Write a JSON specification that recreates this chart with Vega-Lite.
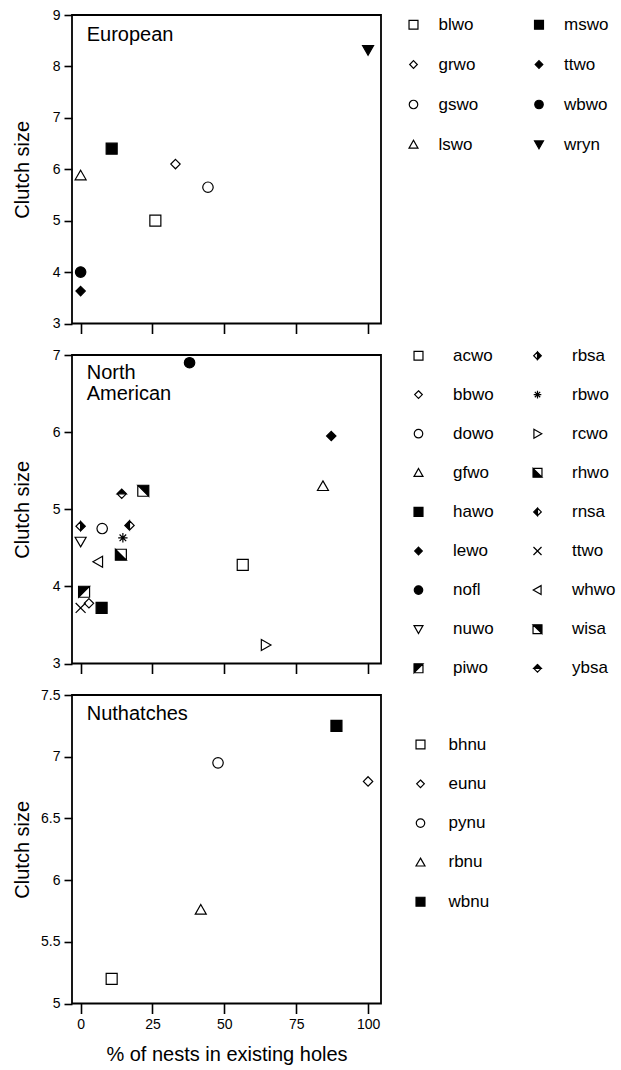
{
  "$schema": "https://vega.github.io/schema/vega-lite/v6.json",
  "padding": {"left": 11, "top": 7, "right": 5, "bottom": 2},
  "config": {
    "font": "Liberation Sans",
    "view": {"stroke": "black", "strokeWidth": 1.8},
    "axis": {"grid": false, "domain": false, "tickColor": "black", "tickWidth": 1.6, "labelColor": "black", "labelFontSize": 14, "titleColor": "black", "titleFontWeight": "normal", "labelFont": "Liberation Sans", "titleFont": "Liberation Sans", "format": "~f"},
    "axisY": {"tickSize": 8, "labelPadding": 4, "titleFontSize": 20, "titleX": -44, "titleBaseline": "alphabetic"},
    "axisX": {"tickSize": 10, "labelPadding": 4, "titleFontSize": 20, "titlePadding": 13},
    "title": {"anchor": "start", "frame": "group", "dx": 14.7, "fontSize": 20, "fontWeight": "normal", "baseline": "alphabetic", "color": "black", "lineHeight": 21, "font": "Liberation Sans"},
    "legend": {"title": null, "orient": "none", "padding": 0, "labelFontSize": 17, "labelFont": "Liberation Sans", "labelColor": "black", "symbolSize": 80, "symbolStrokeColor": "black", "symbolStrokeWidth": 1.2, "symbolOpacity": 1}
  },
  "datasets": {
    "eu": [
      {"species": "blwo", "pct": 26, "clutch": 5.0},
      {"species": "grwo", "pct": 33, "clutch": 6.1},
      {"species": "gswo", "pct": 44.3, "clutch": 5.65},
      {"species": "lswo", "pct": 0, "clutch": 5.88},
      {"species": "mswo", "pct": 10.8, "clutch": 6.4},
      {"species": "ttwo", "pct": 0, "clutch": 3.63},
      {"species": "wbwo", "pct": 0, "clutch": 4.0},
      {"species": "wryn", "pct": 100, "clutch": 8.32}
    ],
    "na": [
      {"species": "acwo", "pct": 56.4, "clutch": 4.28},
      {"species": "bbwo", "pct": 2.9, "clutch": 3.78},
      {"species": "dowo", "pct": 7.5, "clutch": 4.75},
      {"species": "gfwo", "pct": 84.3, "clutch": 5.3},
      {"species": "hawo", "pct": 7.3, "clutch": 3.72},
      {"species": "lewo", "pct": 87.2, "clutch": 5.95},
      {"species": "nofl", "pct": 37.9, "clutch": 6.9},
      {"species": "nuwo", "pct": 0, "clutch": 4.58},
      {"species": "piwo", "pct": 1.2, "clutch": 3.93},
      {"species": "rbsa", "pct": 0, "clutch": 4.78},
      {"species": "rbwo", "pct": 14.7, "clutch": 4.63},
      {"species": "rcwo", "pct": 64.4, "clutch": 3.24},
      {"species": "rhwo", "pct": 14, "clutch": 4.41},
      {"species": "rnsa", "pct": 17, "clutch": 4.79},
      {"species": "ttwo", "pct": 0, "clutch": 3.72},
      {"species": "whwo", "pct": 6.1, "clutch": 4.32},
      {"species": "wisa", "pct": 21.8, "clutch": 5.24},
      {"species": "ybsa", "pct": 14.3, "clutch": 5.2}
    ],
    "nu": [
      {"species": "bhnu", "pct": 10.8, "clutch": 5.2},
      {"species": "eunu", "pct": 100, "clutch": 6.8},
      {"species": "pynu", "pct": 47.8, "clutch": 6.95},
      {"species": "rbnu", "pct": 41.8, "clutch": 5.76},
      {"species": "wbnu", "pct": 89, "clutch": 7.25}
    ]
  },
  "spacing": 31,
  "bounds": "flush",
  "resolve": {"scale": {"shape": "independent", "fill": "independent", "y": "independent"}},
  "vconcat": [
    {
      "width": 309,
      "height": 308.5,
      "title": {"text": "European", "offset": -37},
      "data": {"name": "eu"},
      "mark": {"type": "point", "size": 121, "stroke": "black", "strokeWidth": 1.2, "opacity": 1},
      "encoding": {
        "x": {"field": "pct", "type": "quantitative", "scale": {"domain": [-3, 104.5], "nice": false, "zero": false}, "axis": {"values": [0, 25, 50, 75, 100], "labels": false, "title": null}},
        "y": {"field": "clutch", "type": "quantitative", "scale": {"domain": [3, 9], "nice": false, "zero": false}, "axis": {"values": [3, 4, 5, 6, 7, 8, 9], "title": "Clutch size"}},
        "shape": {"field": "species", "type": "nominal",
          "scale": {"domain": ["blwo", "grwo", "gswo", "lswo", "mswo", "ttwo", "wbwo", "wryn"],
            "range": ["M-1,-1H1V1H-1Z", "M0,-0.85L0.85,0L0,0.85L-0.85,0Z", "M0.95,0A0.95,0.95,0,1,1,-0.95,0A0.95,0.95,0,1,1,0.95,0Z", "M0,-0.95L1,0.8L-1,0.8Z", "M-1,-1H1V1H-1Z", "M0,-0.85L0.85,0L0,0.85L-0.85,0Z", "M0.95,0A0.95,0.95,0,1,1,-0.95,0A0.95,0.95,0,1,1,0.95,0Z", "M0,0.95L1,-0.8L-1,-0.8Z"]},
          "legend": {"columns": 2, "legendX": 333, "legendY": 1, "rowPadding": 22, "columnPadding": 51.5, "labelOffset": 16.5, "encode": {"symbols": {"update": {"stroke": {"value": "black"}, "strokeWidth": {"value": 1.2}}}}}},
        "fill": {"field": "species", "type": "nominal",
          "scale": {"domain": ["blwo", "grwo", "gswo", "lswo", "mswo", "ttwo", "wbwo", "wryn"],
            "range": ["white", "white", "white", "white", "black", "black", "black", "black"]},
          "legend": {"columns": 2, "legendX": 333, "legendY": 1, "rowPadding": 22, "columnPadding": 51.5, "labelOffset": 16.5, "encode": {"symbols": {"update": {"stroke": {"value": "black"}, "strokeWidth": {"value": 1.2}}}}}}
      }
    },
    {
      "width": 309,
      "height": 308.5,
      "title": {"text": ["North", "American"], "offset": -57},
      "data": {"name": "na"},
      "mark": {"type": "point", "size": 121, "stroke": "black", "strokeWidth": 1.2, "opacity": 1},
      "encoding": {
        "x": {"field": "pct", "type": "quantitative", "scale": {"domain": [-3, 104.5], "nice": false, "zero": false}, "axis": {"values": [0, 25, 50, 75, 100], "labels": false, "title": null}},
        "y": {"field": "clutch", "type": "quantitative", "scale": {"domain": [3, 7], "nice": false, "zero": false}, "axis": {"values": [3, 4, 5, 6, 7], "title": "Clutch size"}},
        "shape": {"field": "species", "type": "nominal",
          "scale": {"domain": ["acwo", "bbwo", "dowo", "gfwo", "hawo", "lewo", "nofl", "nuwo", "piwo", "rbsa", "rbwo", "rcwo", "rhwo", "rnsa", "ttwo", "whwo", "wisa", "ybsa"],
            "range": [
              "M-1,-1H1V1H-1Z",
              "M0,-0.85L0.85,0L0,0.85L-0.85,0Z",
              "M0.95,0A0.95,0.95,0,1,1,-0.95,0A0.95,0.95,0,1,1,0.95,0Z",
              "M0,-0.95L1,0.8L-1,0.8Z",
              "M-1,-1H1V1H-1Z",
              "M0,-0.85L0.85,0L0,0.85L-0.85,0Z",
              "M0.95,0A0.95,0.95,0,1,1,-0.95,0A0.95,0.95,0,1,1,0.95,0Z",
              "M0,0.95L1,-0.8L-1,-0.8Z",
              "M-1,-1H1V1H-1ZM-1,-1V1H1V-1ZM-1,-1L1,-1L-1,1Z",
              "M0,-0.85L0.85,0L0,0.85L-0.85,0ZM0,-0.85L-0.85,0L0,0.85L0.85,0ZM0,-0.85L0.85,0L0,0.85Z",
              "M0,-0.85V0.85M-0.85,0H0.85M-0.6,-0.6L0.6,0.6M-0.6,0.6L0.6,-0.6",
              "M0.95,0L-0.8,-1L-0.8,1Z",
              "M-1,-1H1V1H-1ZM-1,-1V1H1V-1ZM-1,-1L-1,1L1,1Z",
              "M0,-0.85L0.85,0L0,0.85L-0.85,0ZM0,-0.85L-0.85,0L0,0.85L0.85,0ZM0,-0.85L-0.85,0L0,0.85Z",
              "M-0.9,-0.9L0.9,0.9M-0.9,0.9L0.9,-0.9",
              "M-0.95,0L0.8,-1L0.8,1Z",
              "M-1,-1H1V1H-1ZM-1,-1V1H1V-1ZM-1,-1L1,-1L1,1Z",
              "M0,-0.85L0.85,0L0,0.85L-0.85,0ZM0,-0.85L-0.85,0L0,0.85L0.85,0ZM-0.85,0L0,-0.85L0.85,0Z"
            ]},
          "legend": {"columns": 2, "legendX": 338, "legendY": -8, "rowPadding": 21.1, "columnPadding": 35, "labelOffset": 26, "encode": {"symbols": {"update": {"stroke": {"value": "black"}, "strokeWidth": {"value": 1.2}}}}}},
        "fill": {"field": "species", "type": "nominal",
          "scale": {"domain": ["acwo", "bbwo", "dowo", "gfwo", "hawo", "lewo", "nofl", "nuwo", "piwo", "rbsa", "rbwo", "rcwo", "rhwo", "rnsa", "ttwo", "whwo", "wisa", "ybsa"],
            "range": ["white", "white", "white", "white", "black", "black", "black", "white", "black", "black", "white", "white", "black", "black", "white", "white", "black", "black"]},
          "legend": {"columns": 2, "legendX": 338, "legendY": -8, "rowPadding": 21.1, "columnPadding": 35, "labelOffset": 26, "encode": {"symbols": {"update": {"stroke": {"value": "black"}, "strokeWidth": {"value": 1.2}}}}}}
      }
    },
    {
      "width": 309,
      "height": 308.5,
      "title": {"text": "Nuthatches", "offset": -36},
      "data": {"name": "nu"},
      "mark": {"type": "point", "size": 121, "stroke": "black", "strokeWidth": 1.2, "opacity": 1},
      "encoding": {
        "x": {"field": "pct", "type": "quantitative", "scale": {"domain": [-3, 104.5], "nice": false, "zero": false}, "axis": {"values": [0, 25, 50, 75, 100], "title": "% of nests in existing holes"}},
        "y": {"field": "clutch", "type": "quantitative", "scale": {"domain": [5, 7.5], "nice": false, "zero": false}, "axis": {"values": [5, 5.5, 6, 6.5, 7, 7.5], "title": "Clutch size"}},
        "shape": {"field": "species", "type": "nominal",
          "scale": {"domain": ["bhnu", "eunu", "pynu", "rbnu", "wbnu"],
            "range": ["M-1,-1H1V1H-1Z", "M0,-0.85L0.85,0L0,0.85L-0.85,0Z", "M0.95,0A0.95,0.95,0,1,1,-0.95,0A0.95,0.95,0,1,1,0.95,0Z", "M0,-0.95L1,0.8L-1,0.8Z", "M-1,-1H1V1H-1Z"]},
          "legend": {"columns": 1, "legendX": 340, "legendY": 41, "rowPadding": 21.3, "labelOffset": 19.5, "encode": {"symbols": {"update": {"stroke": {"value": "black"}, "strokeWidth": {"value": 1.2}}}}}},
        "fill": {"field": "species", "type": "nominal",
          "scale": {"domain": ["bhnu", "eunu", "pynu", "rbnu", "wbnu"],
            "range": ["white", "white", "white", "white", "black"]},
          "legend": {"columns": 1, "legendX": 340, "legendY": 41, "rowPadding": 21.3, "labelOffset": 19.5, "encode": {"symbols": {"update": {"stroke": {"value": "black"}, "strokeWidth": {"value": 1.2}}}}}}
      }
    }
  ]
}
